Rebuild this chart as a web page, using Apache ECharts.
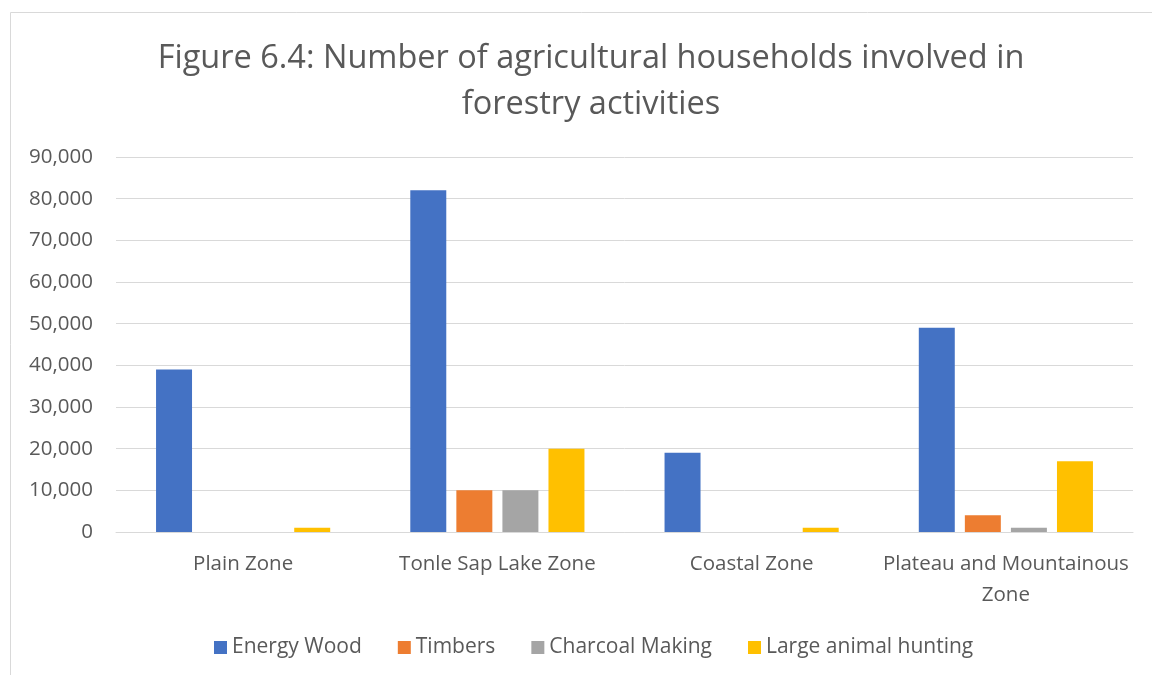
<!DOCTYPE html>
<html><head><meta charset="utf-8">
<script src="https://cdn.jsdelivr.net/npm/echarts@6/dist/echarts.min.js"></script>
<style>html,body{margin:0;padding:0;background:#fff}#c{width:1152px;height:675px}</style>
</head><body><div id="c"></div>
<script>
const categories = ['Plain Zone', 'Tonle Sap Lake Zone', 'Coastal Zone', 'Plateau and Mountainous\nZone'];
const energyWood = [39000, 82000, 19000, 49000];
const timbers = [0, 10000, 0, 4000];
const charcoalMaking = [0, 10000, 0, 1000];
const largeAnimalHunting = [1000, 20000, 1000, 17000];
const seriesNames = ['Energy Wood', 'Timbers', 'Charcoal Making', 'Large animal hunting'];
const colors = ['#4472C4', '#ED7D31', '#A5A5A5', '#FFC000'];
const values = [energyWood, timbers, charcoalMaking, largeAnimalHunting];

const font = 'Open Sans, Liberation Sans, sans-serif';
const chart = echarts.init(document.getElementById('c'));
chart.setOption({
  animation: false,
  color: colors,
  graphic: [{type: 'rect', shape: {x: 10.5, y: 12.5, width: 1160, height: 700}, style: {fill: 'none', stroke: '#d9d9d9', lineWidth: 1}, silent: true}],
  title: {
    text: 'Figure 6.4: Number of agricultural households involved in\nforestry activities',
    left: 586, top: 31, textAlign: 'center',
    textStyle: {fontFamily: font, fontSize: 32.5, fontWeight: 'normal', color: '#595959', lineHeight: 46}
  },
  legend: {
    top: 632, left: 209, itemWidth: 13, itemHeight: 13, itemGap: 36,
    icon: 'rect',
    textStyle: {fontFamily: font, fontSize: 21, color: '#595959'}
  },
  grid: {left: 116, right: 19, top: 157, bottom: 143},
  xAxis: {
    type: 'category', data: categories,
    axisLine: {lineStyle: {color: '#d9d9d9'}}, axisTick: {show: false},
    axisLabel: {interval: 0, fontFamily: font, fontSize: 20.5, color: '#595959', margin: 17, lineHeight: 31}
  },
  yAxis: {
    type: 'value', min: 0, max: 90000, interval: 10000,
    axisLine: {show: false}, axisTick: {show: false},
    splitLine: {lineStyle: {color: '#d9d9d9'}},
    axisLabel: {fontFamily: font, fontSize: 20.5, color: '#595959', margin: 23,
      formatter: v => v.toLocaleString('en-US')}
  },
  series: values.map((d, i) => ({
    name: seriesNames[i], type: 'bar', data: d,
    barGap: '28%', barCategoryGap: '31.5%'
  }))
});
</script></body></html>
